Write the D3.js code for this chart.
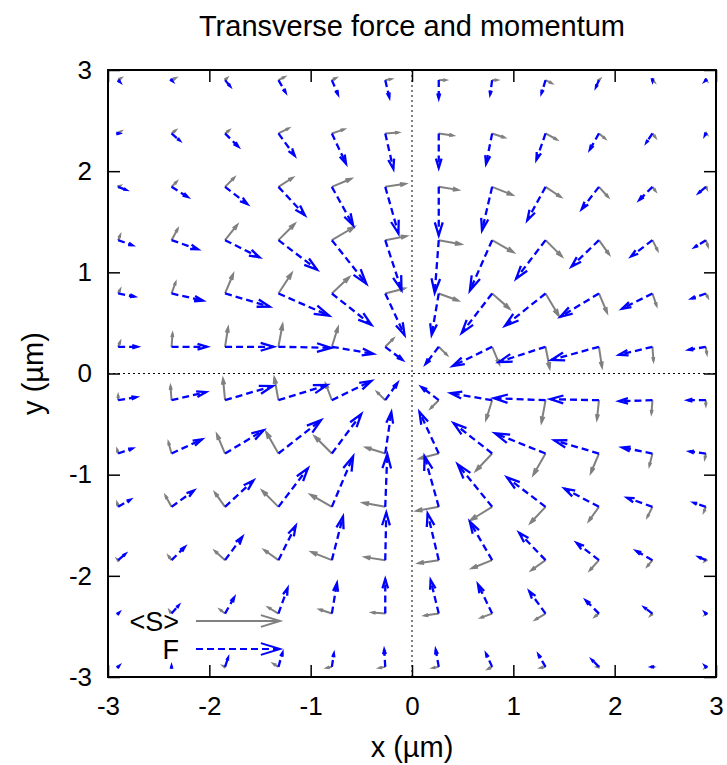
<!DOCTYPE html>
<html><head><meta http-equiv="Content-Type" content="text/html; charset=UTF-8">
<script src="https://d3js.org/d3.v7.min.js"></script>
<style>
  body { margin: 0; background: #fff; }
  svg text { font-family: "Liberation Sans", Arial, Helvetica, sans-serif; }
</style>
</head>
<body>
<div id="body"></div>
<script type="text/javascript">

var w = 727, h = 765,
    padL = 108, padR = 716, padT = 70, padB = 677,
    fontSize = 26, labelSize = 29;

// grid points (um)
var gridX = [-2.9, -2.373, -1.845, -1.318, -0.791, -0.264, 0.264, 0.791, 1.318, 1.845, 2.373, 2.9];
var gridY = [2.9, 2.373, 1.845, 1.318, 0.791, 0.264, -0.264, -0.791, -1.318, -1.845, -2.373, -2.9];
var ticks = [-3, -2, -1, 0, 1, 2, 3];

// <S> components, rows top to bottom, in 0.01 um
var sx = [
  [3, 4, 2, 6, 4, 6, 7, 5, 6, 1, 2, 1],
  [3, 4, 4, 10, 12, 13, 14, 12, 11, 6, 3, 1],
  [2, 5, 9, 14, 19, 20, 19, 20, 15, 9, 3, 1],
  [2, 6, 12, 16, 22, 21, 22, 21, 16, 10, 5, 2],
  [2, 4, 8, 13, 17, 19, 19, 17, 13, 8, 4, 2],
  [2, 1, 3, 4, 6, 8, 8, 7, 4, 3, 1, 1],
  [0, -1, -2, -4, -6, -8, -8, -6, -4, -2, -1, 0],
  [-1, -3, -8, -12, -17, -19, -19, -16, -12, -8, -3, -1],
  [-1, -6, -10, -16, -21, -22, -22, -21, -15, -10, -5, -2],
  [-1, -3, -10, -14, -20, -20, -20, -20, -14, -9, -5, -1],
  [0, -2, -5, -10, -12, -13, -14, -11, -10, -4, -2, -1],
  [0, 0, -2, -5, -5, -6, -6, -4, -5, -2, 1, -1]
];
var sy = [
  [2, 2, 2, 3, 2, 1, 0, 0, -3, 1, -2, -1],
  [2, 3, 3, 5, 4, 1, -2, -4, -6, -5, -4, -1],
  [1, 5, 9, 9, 8, 3, -3, -8, -10, -10, -4, -2],
  [5, 11, 15, 16, 13, 4, -4, -12, -16, -14, -10, -6],
  [4, 11, 19, 20, 16, 5, -7, -15, -22, -19, -12, -4],
  [5, 13, 19, 22, 19, 8, -8, -17, -21, -20, -14, -7],
  [5, 14, 21, 22, 16, 8, -8, -19, -22, -19, -13, -5],
  [4, 11, 19, 21, 17, 6, -5, -17, -21, -19, -12, -5],
  [4, 11, 14, 16, 12, 4, -4, -13, -16, -14, -10, -5],
  [1, 4, 9, 10, 8, 3, -3, -8, -10, -10, -6, -1],
  [0, 3, 4, 6, 4, 1, -2, -4, -6, -3, -2, -1],
  [0, 0, 1, 3, -1, -1, -1, -2, -1, 0, 0, -1]
];

// F components, rows top to bottom, in 0.01 um
var fx = [
  [2, 1, 5, 7, 6, 4, 0, -2, -4, -3, 0, -1],
  [1, 8, 13, 16, 14, 8, 0, -6, -9, -9, -6, -1],
  [8, 16, 22, 26, 21, 13, 0, -10, -18, -17, -13, -7],
  [14, 26, 34, 38, 34, 16, -4, -22, -29, -27, -21, -11],
  [16, 31, 44, 50, 39, 19, -7, -30, -40, -38, -30, -14],
  [19, 35, 48, 52, 41, 17, -13, -39, -46, -47, -33, -17],
  [18, 34, 47, 48, 39, 12, -17, -41, -51, -48, -33, -18],
  [14, 30, 38, 42, 29, 6, -19, -38, -50, -44, -30, -16],
  [12, 22, 28, 29, 21, 2, -14, -34, -38, -34, -25, -12],
  [7, 13, 17, 17, 11, 1, -11, -22, -26, -22, -16, -7],
  [1, 7, 9, 9, 5, 0, -8, -14, -16, -13, -8, -1],
  [1, 0, 3, 4, 2, -1, -3, -6, -7, -7, -1, -1]
];
var fy = [
  [-2, -1, -6, -12, -14, -17, -18, -14, -13, -7, -1, -1],
  [0, -7, -13, -22, -30, -35, -34, -30, -26, -16, -9, -2],
  [-3, -10, -17, -28, -38, -46, -48, -43, -33, -22, -13, -6],
  [-5, -9, -17, -29, -43, -49, -52, -50, -38, -26, -16, -7],
  [-3, -7, -13, -22, -31, -41, -41, -39, -32, -23, -15, -5],
  [0, 0, 0, -1, -7, -13, -17, -19, -15, -13, -8, -3],
  [3, 8, 14, 15, 19, 17, 13, 7, 2, 1, -1, 0],
  [5, 14, 23, 33, 39, 41, 41, 30, 20, 13, 6, 2],
  [7, 16, 26, 38, 50, 52, 50, 42, 29, 18, 9, 4],
  [6, 13, 23, 34, 43, 47, 46, 38, 27, 17, 9, 3],
  [1, 8, 16, 25, 30, 34, 33, 29, 22, 13, 6, 1],
  [1, 1, 9, 14, 13, 17, 17, 13, 12, 7, 0, 1]
];

var gray = "#808080", blue = "#0000ff";

var x = d3.scaleLinear().domain([-3, 3]).range([padL, padR]);
var y = d3.scaleLinear().domain([-3, 3]).range([padB, padT]);

var svg = d3.select("#body").append("svg")
    .attr("width", w)
    .attr("height", h);

svg.append("rect").attr("width", w).attr("height", h).attr("fill", "white");

// zero axes
svg.append("line")
    .attr("x1", x(0)).attr("x2", x(0)).attr("y1", y(3)).attr("y2", y(-3))
    .style("stroke", "black").style("stroke-width", 1).style("stroke-dasharray", "2,3");
svg.append("line")
    .attr("x1", x(-3)).attr("x2", x(3)).attr("y1", y(0)).attr("y2", y(0))
    .style("stroke", "black").style("stroke-width", 1).style("stroke-dasharray", "2,3");

// arrow path: shaft + open head
function arrowPath(ax, ay, bx, by, headLen) {
    var dx = bx - ax, dy = by - ay,
        len = Math.sqrt(dx * dx + dy * dy);
    if (len < 0.01) return null;
    var hl = headLen !== undefined ? headLen : Math.max(3, 0.28 * len),
        ang = Math.atan2(dy, dx),
        a = 17 * Math.PI / 180;
    var h1x = bx - hl * Math.cos(ang - a), h1y = by - hl * Math.sin(ang - a),
        h2x = bx - hl * Math.cos(ang + a), h2y = by - hl * Math.sin(ang + a);
    return { shaft: "M" + ax + "," + ay + "L" + bx + "," + by,
             head: "M" + h1x + "," + h1y + "L" + bx + "," + by + "L" + h2x + "," + h2y };
}

var cells = [];
for (var r = 0; r < gridY.length; r++) {
    for (var c = 0; c < gridX.length; c++) {
        cells.push({ x: gridX[c], y: gridY[r], sx: sx[r][c], sy: sy[r][c], fx: fx[r][c], fy: fy[r][c] });
    }
}

function drawField(keyX, keyY, color, dashed) {
    var g = svg.append("g");
    cells.forEach(function(d) {
        var p = arrowPath(x(d.x), y(d.y), x(d.x + d[keyX] / 100), y(d.y + d[keyY] / 100));
        if (!p) return;
        g.append("path").attr("d", p.shaft)
            .style("fill", "none").style("stroke", color).style("stroke-width", dashed ? 2.3 : 2)
            .style("stroke-dasharray", dashed ? "7,4" : null);
        g.append("path").attr("d", p.head)
            .style("fill", "none").style("stroke", color).style("stroke-width", dashed ? 2.3 : 2);
    });
}
drawField("sx", "sy", gray, false);
drawField("fx", "fy", blue, true);

// axes, ticks inward on all four sides
function styleAxis(g, labels) {
    g.select(".domain").remove();
    g.selectAll(".tick line").style("stroke", "black").style("stroke-width", 1.5);
    g.selectAll(".tick text").style("font-size", fontSize + "px").style("fill", "black")
        .style("font-family", "'Liberation Sans', Arial, sans-serif");
    if (!labels) g.selectAll(".tick text").remove();
}
svg.append("g").attr("transform", "translate(0," + padB + ")")
    .call(d3.axisBottom(x).tickValues(ticks).tickSize(-12).tickPadding(20).tickFormat(d3.format("d")))
    .call(styleAxis, true);
svg.append("g").attr("transform", "translate(0," + padT + ")")
    .call(d3.axisTop(x).tickValues(ticks).tickSize(-12))
    .call(styleAxis, false);
svg.append("g").attr("transform", "translate(" + padL + ",0)")
    .call(d3.axisLeft(y).tickValues(ticks).tickSize(-12).tickPadding(16).tickFormat(d3.format("d")))
    .call(styleAxis, true);
svg.append("g").attr("transform", "translate(" + padR + ",0)")
    .call(d3.axisRight(y).tickValues(ticks).tickSize(-12))
    .call(styleAxis, false);

// plain hyphen minus like gnuplot
svg.selectAll(".tick text").text(function() { return this.textContent.replace("\u2212", "-"); });

// frame
svg.append("rect")
    .attr("x", padL).attr("y", padT).attr("width", padR - padL).attr("height", padB - padT)
    .style("fill", "none").style("stroke", "black").style("stroke-width", 2);

// legend
var legend = [
    { label: "<S>", color: gray, dashed: false, y: 621 },
    { label: "F", color: blue, dashed: true, y: 649 }
];
legend.forEach(function(d) {
    svg.append("text").attr("x", 179).attr("y", d.y).attr("dy", "0.36em")
        .style("text-anchor", "end").style("font-size", "27px").text(d.label);
    var p = arrowPath(196, d.y, 280, d.y, 20);
    svg.append("path").attr("d", p.shaft)
        .style("fill", "none").style("stroke", d.color).style("stroke-width", 2)
        .style("stroke-dasharray", d.dashed ? "7,4" : null);
    svg.append("path").attr("d", p.head)
        .style("fill", "none").style("stroke", d.color).style("stroke-width", 2);
});

// title and axis labels
svg.append("text").attr("x", (padL + padR) / 2).attr("y", 26).attr("dy", "0.35em")
    .style("text-anchor", "middle").style("font-size", labelSize + "px")
    .text("Transverse force and momentum");
svg.append("text").attr("x", (padL + padR) / 2).attr("y", 747).attr("dy", "0.35em")
    .style("text-anchor", "middle").style("font-size", labelSize + "px")
    .text("x (\u00b5m)");
svg.append("text").attr("transform", "translate(33," + ((padT + padB) / 2) + ") rotate(-90)")
    .attr("dy", "0.35em")
    .style("text-anchor", "middle").style("font-size", labelSize + "px")
    .text("y (\u00b5m)");

</script>
</body></html>
